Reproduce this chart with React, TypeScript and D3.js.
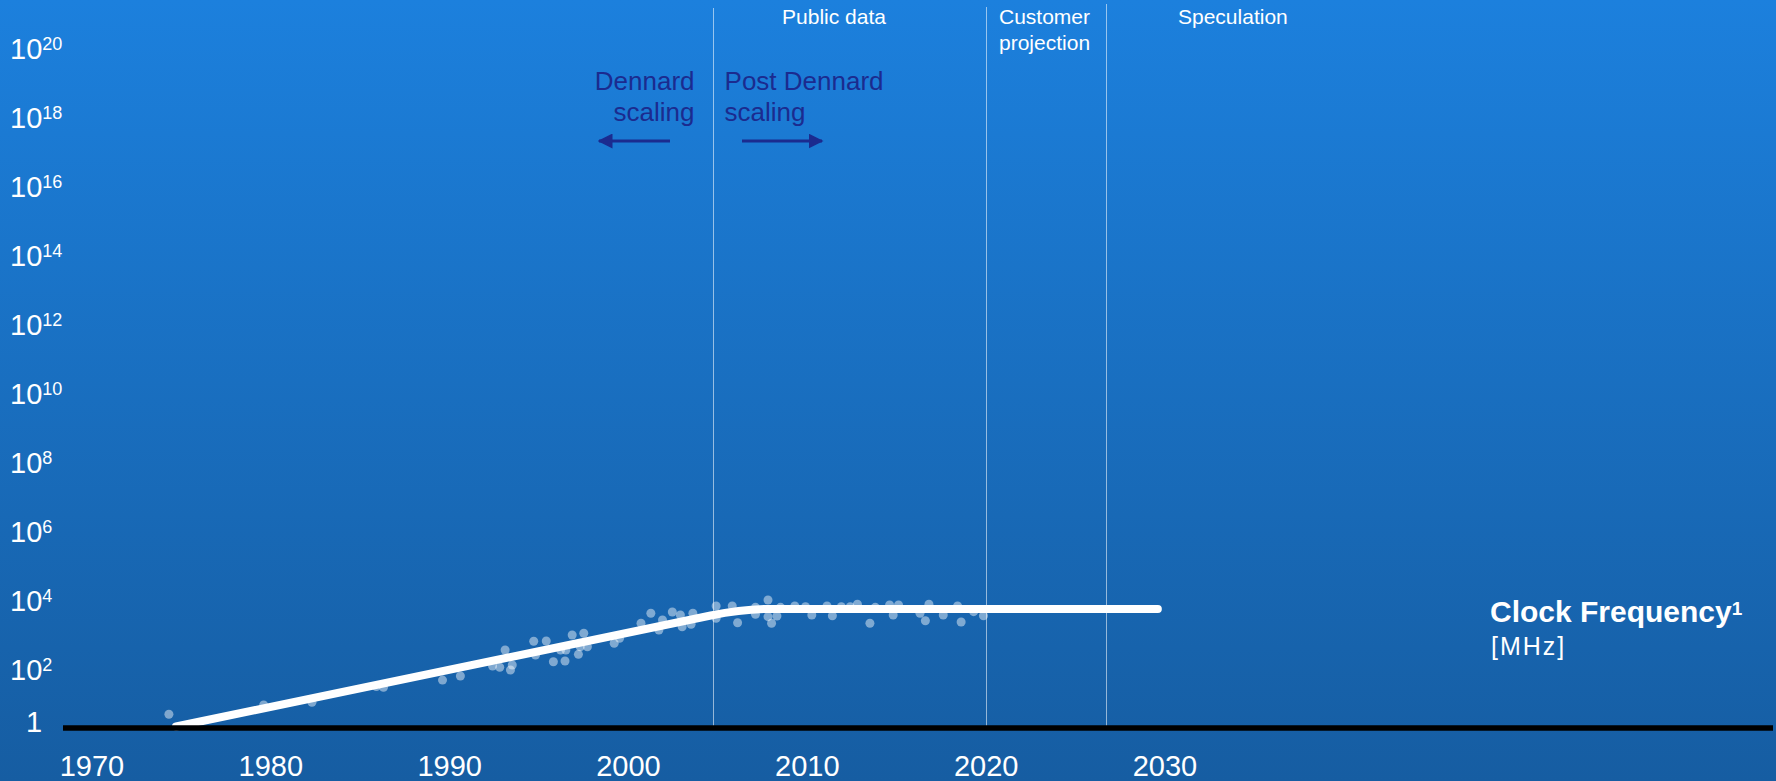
import React, { useEffect } from "react";
import * as d3 from "d3";

const WIDTH = 1776;
const HEIGHT = 781;

// Axis ticks
const X_TICK_YEARS = [1970, 1980, 1990, 2000, 2010, 2020, 2030];
const Y_TICK_EXPONENTS = [0, 2, 4, 6, 8, 10, 12, 14, 16, 18, 20];

// Boundaries between the data phases (public data / customer projection / speculation)
const PHASE_YEARS = [2004.7, 2020, 2026.7];

// Individual processors: [year, clock frequency in MHz]
const PROCESSORS: [number, number][] = [
  [1974.3, 5.2], [1979.6, 9.7], [1982.3, 11.6], [1985.9, 33], [1986.3, 31.5],
  [1989.6, 51], [1990.6, 67], [1992.4, 131], [1992.8, 120], [1993.1, 380],
  [1993.4, 100], [1993.5, 140], [1994.7, 680], [1994.8, 272], [1995.4, 693],
  [1995.8, 174], [1996.2, 380], [1996.45, 182], [1996.5, 380], [1996.85, 1033],
  [1997.2, 285], [1997.3, 473], [1997.5, 1158], [1997.7, 473], [1999.2, 594],
  [1999.5, 829], [2000.7, 2258], [2001.25, 4400], [2001.7, 1443], [2001.9, 2813],
  [2002.45, 4800], [2002.9, 3930], [2003.0, 1800], [2003.5, 2113], [2003.6, 4400],
  [2004.9, 7160], [2004.9, 3152], [2005.8, 7160], [2006.1, 2350], [2007.1, 6560],
  [2007.1, 4110], [2007.8, 10700], [2007.8, 3510], [2008.0, 2258], [2008.3, 3675],
  [2008.5, 6560], [2009.3, 7160], [2009.9, 6840], [2010.25, 3930], [2011.1, 7160],
  [2011.4, 3750], [2011.9, 6840], [2012.4, 6840], [2012.8, 8020], [2013.5, 2258],
  [2013.8, 6560], [2014.6, 7660], [2014.8, 3930], [2015.1, 7660], [2016.3, 4400],
  [2016.6, 2685], [2016.8, 8020], [2017.6, 3930], [2018.4, 7160], [2018.6, 2460],
  [2019.3, 4900], [2019.85, 3750],
];

// Trend: exponential growth, a rounded knee, then a plateau
const TREND_START: [number, number] = [1974.7, 2.3];
const TREND_KNEE_START: [number, number] = [2004.6, 3800];
const TREND_KNEE_CORNER: [number, number] = [2006.4, 5900];
const TREND_KNEE_END: [number, number] = [2007.9, 5900];
const TREND_END: [number, number] = [2029.6, 5900];

const FONT = "'Liberation Sans', Arial, Helvetica, sans-serif";
const NAVY = "#1b2b8f";

export default function App() {
  useEffect(() => {
    document.body.style.margin = "0";
    document.body.style.overflow = "hidden";
  }, []);

  const axisY = 728;
  const x = d3.scaleLinear().domain([1970, 2030]).range([92, 1165]);
  const y = d3.scaleLog().domain([1, 1e20]).range([739, 49]);

  const trend = d3.path();
  trend.moveTo(x(TREND_START[0]), y(TREND_START[1]));
  trend.lineTo(x(TREND_KNEE_START[0]), y(TREND_KNEE_START[1]));
  trend.quadraticCurveTo(
    x(TREND_KNEE_CORNER[0]), y(TREND_KNEE_CORNER[1]),
    x(TREND_KNEE_END[0]), y(TREND_KNEE_END[1])
  );
  trend.lineTo(x(TREND_END[0]), y(TREND_END[1]));

  const phaseTops = [8, 7, 4];
  const dividerX = x(PHASE_YEARS[0]);

  return (
    <svg
      width={WIDTH}
      height={HEIGHT}
      style={{ display: "block", position: "absolute", left: 0, top: 0 }}
      fontFamily={FONT}
    >
      <defs>
        <linearGradient id="bg" x1="0" y1="0" x2="0" y2="1">
          <stop offset="0" stopColor="#1c80dd" />
          <stop offset="1" stopColor="#165da2" />
        </linearGradient>
        <marker id="head" viewBox="0 0 10 10" refX="9" refY="5" markerWidth="5" markerHeight="5" orient="auto-start-reverse">
          <path d="M0,0 L10,5 L0,10 z" fill={NAVY} />
        </marker>
      </defs>
      <rect x={0} y={0} width={WIDTH} height={HEIGHT} fill="url(#bg)" />

      {/* phase dividers */}
      {PHASE_YEARS.map((yr, i) => (
        <line
          key={yr}
          x1={Math.round(x(yr)) + 0.5}
          x2={Math.round(x(yr)) + 0.5}
          y1={phaseTops[i]}
          y2={axisY}
          stroke="#ffffff"
          strokeOpacity={0.55}
          strokeWidth={1}
        />
      ))}

      {/* phase headings */}
      <text x={834} y={24} fill="#fff" fontSize={21} textAnchor="middle">Public data</text>
      <text x={999} y={24} fill="#fff" fontSize={21}>
        <tspan x={999}>Customer</tspan>
        <tspan x={999} dy={26}>projection</tspan>
      </text>
      <text x={1178} y={24} fill="#fff" fontSize={21}>Speculation</text>

      {/* Dennard annotations */}
      <text fill={NAVY} fontSize={26} textAnchor="end">
        <tspan x={dividerX - 18} y={90}>Dennard</tspan>
        <tspan x={dividerX - 18} y={121}>scaling</tspan>
      </text>
      <text fill={NAVY} fontSize={26}>
        <tspan x={dividerX + 12} y={90}>Post Dennard</tspan>
        <tspan x={dividerX + 12} y={121}>scaling</tspan>
      </text>
      <line x1={670} y1={141} x2={599} y2={141} stroke={NAVY} strokeWidth={3} markerEnd="url(#head)" />
      <line x1={742} y1={141} x2={822} y2={141} stroke={NAVY} strokeWidth={3} markerEnd="url(#head)" />

      {/* y tick labels */}
      {Y_TICK_EXPONENTS.map((k) => {
        const v = Math.pow(10, k);
        const cy = Math.min(y(v), axisY - 6);
        if (k === 0) {
          return (
            <text key={k} x={26} y={cy + 10} fill="#fff" fontSize={29}>1</text>
          );
        }
        return (
          <text key={k} x={10} y={cy + 10} fill="#fff" fontSize={29}>
            10<tspan fontSize={18} dy={-9}>{k}</tspan>
          </text>
        );
      })}

      {/* x tick labels */}
      {X_TICK_YEARS.map((yr) => (
        <text key={yr} x={x(yr)} y={776} fill="#fff" fontSize={29} textAnchor="middle">{yr}</text>
      ))}

      {/* processors */}
      {PROCESSORS.map(([yr, mhz], i) => (
        <circle key={i} cx={x(yr)} cy={y(mhz)} r={4.5} fill="#ffffff" fillOpacity={0.45} />
      ))}

      {/* trend */}
      <path d={trend.toString()} fill="none" stroke="#ffffff" strokeWidth={8} strokeLinecap="round" strokeLinejoin="round" />

      {/* baseline */}
      <line x1={63} x2={1773} y1={axisY} y2={axisY} stroke="#000" strokeWidth={5.3} />

      {/* series label */}
      <text x={1490} y={622} fill="#fff" fontSize={30} fontWeight="bold">
        Clock Frequency<tspan fontSize={19} dy={-7}>1</tspan>
      </text>
      <text x={1491} y={655} fill="#fff" fontSize={25} letterSpacing={2}>[MHz]</text>
    </svg>
  );
}
